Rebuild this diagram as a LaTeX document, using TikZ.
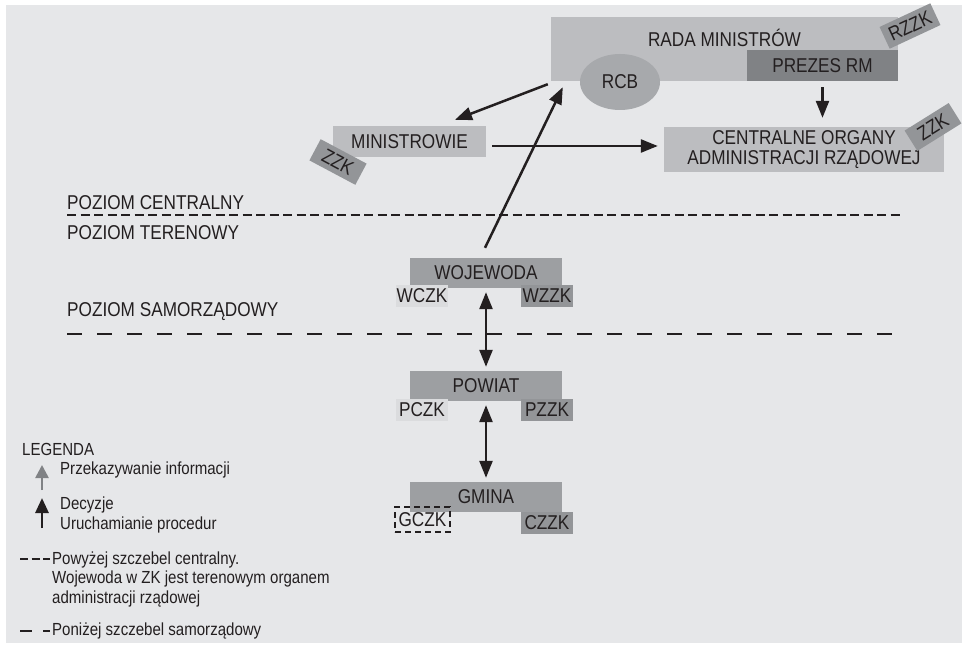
\documentclass[tikz,border=0pt]{standalone}
\usepackage{fontspec}
\setmainfont{Liberation Sans}[FakeStretch=0.86]
\usetikzlibrary{arrows.meta,shapes.geometric}
\definecolor{bgc}{HTML}{E6E7E9}
\definecolor{lightbox}{HTML}{BCBDC0}
\definecolor{midbox}{HTML}{9D9FA2}
\definecolor{darkbox}{HTML}{808285}
\definecolor{tagc}{HTML}{939598}
\definecolor{paletag}{HTML}{DBDCDE}
\definecolor{rcbc}{HTML}{A7A9AC}
\definecolor{ink}{HTML}{231F20}
\begin{document}
\begin{tikzpicture}[
    x=1pt, y=-1pt,
    font=\fontsize{20}{20}\selectfont,
    text=ink,
    box/.style={fill=#1, inner sep=0pt, align=center},
    tag/.style={fill=#1, inner sep=0pt, minimum width=52pt, minimum height=22pt},
    arr/.style={draw=ink, line width=2.5pt, -{Triangle[length=17pt,width=13pt]}},
    dbl/.style={draw=ink, line width=2.5pt,
      {Triangle[length=17pt,width=13pt]}-{Triangle[length=17pt,width=13pt]}},
    fine/.style={draw=ink, line width=2.2pt, dash pattern=on 9pt off 4.5pt},
    coarse/.style={draw=ink, line width=2.2pt, dash pattern=on 15pt off 15pt},
    lgd/.style={anchor=west, inner sep=0pt, align=left,
      font=\fontsize{17.5}{19.5}\selectfont},
    level/.style={anchor=west, inner sep=0pt}
  ]
  \useasboundingbox (0,0) rectangle (962,650);
  \fill[bgc] (6,5) rectangle (962,643);

  % szczebel centralny
  \node[box=lightbox, minimum width=347pt, minimum height=64pt] (rada) at (724.5,49) {};
  \node[inner sep=0pt] (radalbl) at (724.5,38) {RADA MINISTRÓW};
  \node[ellipse, fill=rcbc, inner sep=0pt, minimum width=80pt, minimum height=56pt] (rcb) at (620,82) {RCB};
  \node[box=darkbox, minimum width=151pt, minimum height=31pt] (prezes) at (822.5,65.5) {PREZES RM};
  \node[tag=tagc, minimum width=56pt, minimum height=24pt, rotate=25] (rzzk) at (910,26) {RZZK};

  \node[box=lightbox, minimum width=153pt, minimum height=31pt] (min) at (409.5,141.5) {MINISTROWIE};
  \node[tag=tagc, minimum height=24pt, rotate=-28] (zzkmin) at (338,162) {ZZK};

  \node[box=lightbox, minimum width=280pt, minimum height=45pt] (centr) at (804,149.5)
    {CENTRALNE ORGANY\\ADMINISTRACJI RZĄDOWEJ};
  \node[tag=tagc, minimum height=24pt, rotate=32] (zzkcentr) at (933,127) {ZZK};

  % poziomy
  \node[level] (pcentr) at (67,203) {POZIOM CENTRALNY};
  \node[level] (pteren) at (67,233) {POZIOM TERENOWY};
  \node[level] (psamo) at (67,312) {POZIOM SAMORZĄDOWY};
  \draw[fine] (67,215) -- (900,215);
  \draw[coarse] (67,334) -- (900,334);

  % szczebel terenowy i samorzadowy
  \node[box=midbox, minimum width=152pt, minimum height=30pt] (woj) at (486,273) {WOJEWODA};
  \node[tag=paletag] (wczk) at (422,296) {WCZK};
  \node[tag=tagc] (wzzk) at (547,296) {WZZK};

  \node[box=midbox, minimum width=152pt, minimum height=30pt] (pow) at (486,386) {POWIAT};
  \node[tag=paletag] (pczk) at (422,409.5) {PCZK};
  \node[tag=tagc] (pzzk) at (547,409.5) {PZZK};

  \node[box=midbox, minimum width=152pt, minimum height=30pt] (gmi) at (486,497) {GMINA};
  \node[inner sep=0pt, minimum width=55pt, minimum height=25pt, draw=ink, line width=2.2pt,
    dash pattern=on 6pt off 4pt] (gczk) at (422.5,519.5) {GCZK};
  \node[tag=tagc] (czzk) at (547,523) {CZZK};

  % powiazania
  \draw[arr] ([xshift=-3pt,yshift=-3pt]rada.south west) -- ([xshift=45.5pt,yshift=6pt]min.north);
  \draw[arr] ([xshift=-1pt,yshift=10pt]woj.north) -- ([xshift=12pt,yshift=-6pt]rada.south west);
  \coordinate (mout) at ([xshift=6pt,yshift=-4.5pt]min.east);
  \draw[arr, shorten >=6pt] (mout) -- (mout -| centr.west);
  \draw[arr, shorten <=6pt, shorten >=9pt] (prezes.south) -- (prezes.south |- centr.north);
  \draw[dbl, shorten <=4pt, shorten >=4pt] (woj.south) -- (pow.north);
  \draw[dbl, shorten <=4pt, shorten >=4pt] (pow.south) -- (gmi.north);

  % legenda
  \node[lgd] (lgdhead) at (22,449) {LEGENDA};
  \draw[draw=darkbox, line width=2.6pt, -{Triangle[length=13pt,width=13pt]}] (42,490) -- (42,465);
  \node[lgd] (lgdinfo) at (60,470) {Przekazywanie informacji};
  \draw[draw=ink, line width=2.8pt, -{Triangle[length=15pt,width=13pt]}] (42,528) -- (42,498);
  \node[lgd] (lgddec) at (60,515) {Decyzje\\Uruchamianie procedur};
  \draw[fine, dash pattern=on 8pt off 3.5pt] (20,559) -- (50,559);
  \node[lgd] (lgdcentr) at (52,579)
    {Powyżej szczebel centralny.\\Wojewoda w ZK jest terenowym organem\\administracji rządowej};
  \draw[coarse, dash pattern=on 12pt off 11pt] (20,631) -- (50,631);
  \node[lgd] (lgdsamo) at (52,631) {Poniżej szczebel samorządowy};
\end{tikzpicture}
\end{document}
